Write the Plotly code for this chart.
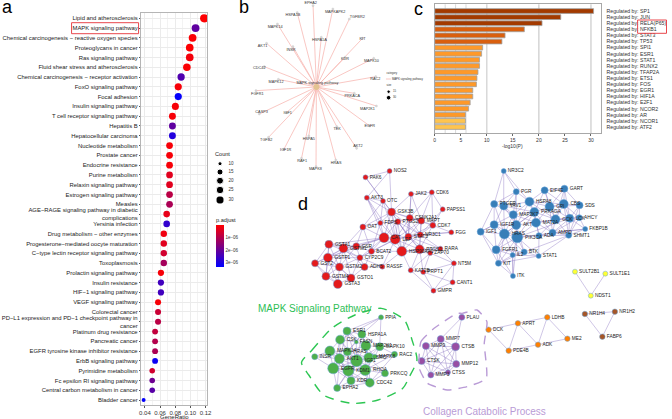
import plotly.graph_objects as go

W, H = 672, 419

# ---------- panel a ----------
pathways = ["Lipid and atherosclerosis", "MAPK signaling pathway",
    "Chemical carcinogenesis − reactive oxygen species", "Proteoglycans in cancer", "Ras signaling pathway",
    "Fluid shear stress and atherosclerosis", "Chemical carcinogenesis − receptor activation",
    "FoxO signaling pathway", "Focal adhesion", "Insulin signaling pathway", "T cell receptor signaling pathway",
    "Hepatitis B", "Hepatocellular carcinoma", "Nucleotide metabolism", "Prostate cancer", "Endocrine resistance",
    "Purine metabolism", "Relaxin signaling pathway", "Estrogen signaling pathway", "Measles",
    "AGE−RAGE signaling pathway in diabetic<br>complications", "Yersinia infection",
    "Drug metabolism − other enzymes", "Progesterone−mediated oocyte maturation",
    "C−type lectin receptor signaling pathway", "Toxoplasmosis", "Prolactin signaling pathway", "Insulin resistance",
    "HIF−1 signaling pathway", "VEGF signaling pathway", "Colorectal cancer",
    "PD−L1 expression and PD−1 checkpoint pathway in<br>cancer", "Platinum drug resistance", "Pancreatic cancer",
    "EGFR tyrosine kinase inhibitor resistance", "ErbB signaling pathway", "Pyrimidine metabolism",
    "Fc epsilon RI signaling pathway", "Central carbon metabolism in cancer", "Bladder cancer"]
counts = [31, 28, 27, 26, 26, 25, 23, 22, 22, 21, 20, 20, 20, 19, 19, 19, 19, 19, 19, 19,
          18, 18, 17, 17, 17, 17, 16, 16, 16, 15, 15, 15, 14, 14, 14, 14, 13, 13, 13, 10]
gene_ratio = [0.1183, 0.1069, 0.1030, 0.0992, 0.0992, 0.0954, 0.0878, 0.0840, 0.0840, 0.0802, 0.0763, 0.0763, 0.0763,
              0.0725, 0.0725, 0.0725, 0.0725, 0.0725, 0.0725, 0.0725, 0.0687, 0.0687, 0.0649, 0.0649, 0.0649, 0.0649,
              0.0611, 0.0611, 0.0611, 0.0573, 0.0573, 0.0573, 0.0534, 0.0534, 0.0534, 0.0534, 0.0496, 0.0496, 0.0496,
              0.0382]
p_adjust = [0.02e-6, 2.1e-6, 0.05e-6, 0.03e-6, 0.15e-6, 0.05e-6, 2.3e-6, 0.1e-6, 3.3e-6, 0.1e-6, 0.1e-6, 2.1e-6, 2.9e-6,
            0.1e-6, 0.1e-6, 0.1e-6, 0.4e-6, 0.4e-6, 0.9e-6, 1.1e-6, 0.3e-6, 2.7e-6, 0.2e-6, 0.4e-6, 0.6e-6, 1.2e-6,
            0.1e-6, 2.5e-6, 2.5e-6, 0.1e-6, 0.7e-6, 0.9e-6, 0.8e-6, 1.0e-6, 1.1e-6, 3.2e-6, 0.6e-6, 1.9e-6, 2.2e-6, 3.3e-6]
legend_counts = [10, 15, 20, 25, 30]

# ---------- panel c ----------
regulators = ["SP1", "JUN", "RELA(P65)", "NFKB1", "STAT3", "TP53", "SPI1", "ESR1", "STAT1", "RUNX2", "TFAP2A", "ETS1",
              "FOS", "EGR1", "HIF1A", "E2F1", "NCOR2", "AR", "NCOR1", "ATF2"]
log_p = [30.5, 24.2, 20.6, 17.2, 13.5, 12.9, 9.2, 9.0, 8.6, 8.6, 8.3, 8.1, 8.0, 7.3, 7.3, 6.8, 6.5, 5.9, 5.9, 5.9]
bar_colors = ["#A33A00"] * 3 + ["#D95F0E"] * 3 + ["#FE9929"] * 12 + ["#FEC44F"] * 2

# ---------- panel b (layout positions) ----------
b_genes = ["EPHA2", "MAPKAPK2", "TGFBR2", "HSPA1B", "MAPK14", "HSPA1A", "KIT", "AKT1", "INSR", "KDR", "MAPK10", "CDC42",
           "MAPK12", "RAC2", "FGFR1", "PRKACA", "MAP2K1", "CASP3", "IGF1", "EGFR", "TGFB2", "TEK", "HSPA5", "AKT2",
           "IGF1R", "RAF1", "HRAS", "MAPK8"]
b_x = [253, 313, 363, 205, 145, 278, 403, 112, 192, 350, 437, 105, 148, 443, 80, 378, 445, 90, 172, 425, 118, 325, 240,
       385, 165, 218, 322, 262]
b_y = [17, 27, 57, 38, 72, 112, 115, 130, 140, 172, 175, 200, 238, 230, 272, 280, 318, 342, 338, 378, 412, 380, 408,
       445, 447, 475, 480, 500]
b_lx = [246, 320, 387, 192, 138, 272, 403, 100, 186, 350, 430, 90, 141, 442, 84, 372, 418, 97, 176, 425, 111, 326, 240,
        389, 170, 220, 323, 260]
b_ly = [10, 36, 51, 45, 80, 120, 117, 139, 149, 178, 184, 204, 246, 237, 282, 289, 326, 335, 340, 379, 420, 387, 416,
        438, 450, 483, 490, 506]

# ---------- panel d (layout positions) ----------
red_names = ["NOS2", "PAK6", "AKT3", "OTC", "JAK2", "CDK6", "PAPSS1", "GSK3B", "CSNK2A1", "MAPT", "FDPS", "PTGS2", "OAT",
             "CDK7", "FGG", "CAT", "LEP", "STAT3", "NR3C1", "HSP90AA1", "PTGS1", "RARA", "ZAP70", "GSTA1", "GSTM1", "GSR",
             "BCAT2", "CYP2C9", "GSTP1", "GST2", "GSTM2", "ADH5", "RASSF", "NT5M", "KAT2B", "PRPT1", "GSTM4", "GSTO1",
             "GSTA3", "CANT1", "GMPR"]
red_x = [305, 232, 236, 285, 370, 433, 466, 311, 366, 401, 277, 330, 224, 436, 492, 288, 322, 362, 398, 342, 396, 459, 428,
         121, 165, 204, 250, 215, 118, 79, 153, 229, 283, 500, 369, 407, 112, 188, 148, 496, 438]
red_y = [63, 82, 143, 153, 132, 127, 178, 186, 204, 212, 219, 215, 231, 226, 247, 263, 268, 260, 254, 304, 298, 296, 309,
         283, 295, 289, 304, 323, 323, 340, 351, 351, 350, 340, 361, 366, 379, 384, 402, 397, 422]
red_s = [5, 5, 5, 5, 5, 5, 5, 8, 7, 7, 5, 6, 6, 6, 5, 10, 10, 7, 6, 10, 9, 5, 5, 8, 9, 7, 6, 6, 9, 7, 8, 7, 5, 5, 5, 5, 8, 8, 9, 5, 5]
red_edges = ["NOS2 PAK6 GSK3B AKT3", "PAK6 GSK3B OTC", "AKT3 OTC GSK3B FDPS CAT LEP", "OTC GSK3B OAT FDPS LEP",
             "JAK2 CDK6 CSNK2A1 STAT3 MAPT GSK3B", "CDK6 CDK7 MAPT CSNK2A1 PAPSS1", "PAPSS1 CDK7 NR3C1",
             "GSK3B CSNK2A1 MAPT FDPS PTGS2 CAT LEP STAT3 HSP90AA1 OAT NR3C1", "CSNK2A1 MAPT PTGS2 STAT3 LEP HSP90AA1 CDK7 NR3C1",
             "MAPT CDK7 STAT3 NR3C1 PTGS1 LEP", "FDPS PTGS2 CAT LEP OAT BCAT2", "PTGS2 CAT LEP STAT3 NR3C1 HSP90AA1 PTGS1",
             "OAT CAT BCAT2 GSR GSTM1", "CDK7 STAT3 FGG NR3C1 PTGS1", "FGG NR3C1 STAT3", "CAT LEP STAT3 HSP90AA1 BCAT2 GSR CYP2C9 GSTM1 GSTA1 GSTP1",
             "LEP STAT3 HSP90AA1 PTGS1 NR3C1 BCAT2 CYP2C9 RASSF", "STAT3 HSP90AA1 PTGS1 NR3C1 RARA ZAP70", "NR3C1 HSP90AA1 PTGS1 RARA",
             "HSP90AA1 PTGS1 BCAT2 KAT2B ZAP70 RASSF RARA", "PTGS1 RARA ZAP70 KAT2B PRPT1", "RARA ZAP70 NT5M", "ZAP70 PRPT1 NT5M KAT2B",
             "GSTA1 GSTM1 GSR GSTP1 GST2 GSTM2 CYP2C9 GSTM4", "GSTM1 GSR GSTP1 GSTM2 CYP2C9 ADH5 GSTO1 GST2 GSTM4", "GSR CYP2C9 GSTP1 BCAT2 GSTM2",
             "BCAT2 CYP2C9 ADH5", "CYP2C9 GSTP1 GSTM2 ADH5 GSTO1 RASSF", "GSTP1 GST2 GSTM2 GSTM4 GSTO1 GSTA3", "GST2 GSTM2 GSTM4 GSTA3",
             "GSTM2 ADH5 GSTM4 GSTO1 GSTA3", "ADH5 GSTO1 RASSF", "GSTM4 GSTO1 GSTA3", "GSTO1 GSTA3", "NT5M CANT1 PRPT1 GMPR",
             "KAT2B PRPT1 GMPR", "PRPT1 CANT1 GMPR", "CANT1 GMPR"]

blue_names = ["NR3C2", "PGR", "EIF4E", "GART", "PTGER", "VAV1", "HSPA8", "GPI", "CBS", "SDS", "MAP2K7", "PRKAGA", "GCK",
              "LCK", "AHCY", "IGF1R", "AKT", "MAT2A", "FKBP1B", "IGF1", "HRAS", "PIK3CA", "ADA", "AMPD", "SHMT1", "FGFR1",
              "BTK", "IL2", "STAT1", "KIT", "ITK"]
blue_x = [81, 119, 205, 265, 52, 81, 159, 220, 263, 311, 110, 174, 238, 281, 310, 52, 119, 179, 328, 11, 83, 122, 188, 229,
          278, 58, 143, 108, 187, 65, 109]
blue_y = [63, 125, 121, 116, 162, 168, 155, 170, 162, 166, 194, 186, 208, 205, 203, 224, 225, 218, 237, 245, 252, 262, 257,
          248, 256, 299, 306, 315, 318, 340, 378]
blue_s = [5, 6, 7, 7, 7, 8, 9, 9, 9, 7, 8, 9, 9, 8, 6, 8, 9, 9, 5, 7, 10, 11, 6, 7, 6, 8, 6, 5, 5, 6, 5]
blue_edges = ["NR3C2 PGR VAV1 PTGER HSPA8", "PGR VAV1 PTGER HSPA8 MAP2K7 AKT", "EIF4E GART HSPA8 GPI CBS PRKAGA GCK", "GART GPI CBS SDS LCK GCK",
              "PTGER VAV1 MAP2K7 IGF1R IGF1 HRAS", "VAV1 HSPA8 MAP2K7 IGF1R AKT HRAS PRKAGA", "HSPA8 GPI PRKAGA MAP2K7 AKT MAT2A CBS GCK",
              "GPI CBS PRKAGA GCK LCK MAT2A AMPD SDS", "CBS SDS LCK GCK AHCY SHMT1", "SDS LCK AHCY SHMT1", "MAP2K7 PRKAGA AKT IGF1R HRAS PIK3CA MAT2A",
              "PRKAGA GCK AKT MAT2A PIK3CA HRAS ADA AMPD", "GCK LCK MAT2A AMPD ADA SHMT1 AHCY", "LCK AHCY FKBP1B AMPD SHMT1 MAT2A PIK3CA",
              "AHCY SHMT1 FKBP1B AMPD", "IGF1R AKT IGF1 HRAS PIK3CA FGFR1", "AKT MAT2A HRAS PIK3CA FGFR1 BTK", "MAT2A PIK3CA ADA AMPD",
              "FKBP1B AMPD SHMT1 PIK3CA", "IGF1 HRAS FGFR1 KIT IGF1R", "HRAS PIK3CA FGFR1 BTK IL2 KIT", "PIK3CA ADA FGFR1 BTK IL2 STAT1 KIT ITK",
              "ADA AMPD SHMT1 STAT1", "AMPD SHMT1", "SHMT1 STAT1 BTK", "FGFR1 BTK IL2 KIT ITK", "BTK IL2 STAT1 KIT", "IL2 STAT1 KIT ITK",
              "KIT ITK STAT1", "ITK IL2"]

green_names = ["PPIA", "ESR1", "HSPA1A", "CSK", "FASN", "MAP2K1", "MAPK10", "INSR", "MAPK14", "AKT1", "HRAS", "IGF1", "SRC",
               "MAPK8", "RAC2", "EGFR", "KDM1", "RHOA", "PRKCQ", "KDR", "CDC42", "EPHA2"]
green_x = [429, 326, 371, 305, 354, 383, 425, 228, 274, 303, 327, 355, 392, 410, 470, 284, 330, 381, 441, 338, 395, 296]
green_y = [112, 153, 163, 179, 186, 197, 200, 230, 213, 236, 215, 242, 233, 230, 223, 265, 272, 270, 280, 302, 308, 324]
green_s = [5, 8, 8, 9, 4, 10, 8, 6, 10, 10, 8, 12, 10, 5, 6, 11, 11, 11, 7, 8, 9, 7]
green_edges = ["PPIA HSPA1A ESR1 MAPK10 CSK", "ESR1 HSPA1A CSK FASN MAP2K1 AKT1 HRAS IGF1", "HSPA1A FASN MAP2K1 MAPK10 HRAS IGF1 SRC",
               "CSK FASN MAPK14 AKT1 HRAS EGFR IGF1", "FASN MAP2K1 HRAS IGF1", "MAP2K1 MAPK10 MAPK8 SRC IGF1 HRAS RHOA", "MAPK10 MAPK8 SRC RAC2 IGF1",
               "INSR MAPK14 AKT1 EGFR", "MAPK14 AKT1 HRAS EGFR IGF1 KDM1 KDR", "AKT1 HRAS IGF1 EGFR KDM1 RHOA KDR EPHA2", "HRAS IGF1 SRC EGFR KDM1 RHOA",
               "IGF1 SRC MAPK8 EGFR KDM1 RHOA KDR CDC42 EPHA2 PRKCQ", "SRC MAPK8 RAC2 RHOA PRKCQ CDC42 KDM1", "MAPK8 RAC2 RHOA", "RAC2 RHOA CDC42",
               "EGFR KDM1 RHOA KDR EPHA2 CDC42", "KDM1 RHOA KDR CDC42 EPHA2", "RHOA PRKCQ KDR CDC42", "PRKCQ CDC42", "KDR CDC42 EPHA2", "CDC42 EPHA2"]

purple_names = ["PLAU", "MMP7", "MMP9", "CTSB", "CTSK", "MMP12", "CTSS", "MMP3"]
purple_x = [674, 610, 565, 655, 552, 657, 632, 580]
purple_y = [112, 177, 198, 200, 243, 252, 277, 285]
purple_s = [6, 7, 7, 8, 7, 7, 5, 6]
purple_edges = ["PLAU CTSB MMP7", "MMP7 MMP9 CTSB CTSK MMP12 CTSS MMP3", "MMP9 CTSB CTSK MMP12 CTSS MMP3", "CTSB CTSK MMP12 CTSS MMP3",
                "CTSK MMP12 CTSS MMP3", "MMP12 CTSS MMP3", "CTSS MMP3"]

orange_names = ["DCK", "APRT", "LDHB", "ADK", "ME2", "PDE4B"]
orange_x = [125, 214, 303, 275, 364, 186]
orange_y = [149, 130, 112, 194, 176, 212]
orange_edges = ["DCK APRT PDE4B", "APRT LDHB PDE4B ADK", "LDHB ADK ME2", "ADK ME2 PDE4B"]
brown_names = ["NR1H4", "NR1H2", "FABP6"]
brown_x = [417, 508, 470]
brown_y = [102, 95, 170]
brown_edges = ["NR1H4 NR1H2 FABP6", "NR1H2 FABP6"]
yellow_names = ["SULT2B1", "SULT1E1", "NDST1"]
yellow_x = [297, 389]
yellow_y = [365, 371]
ndst1_xy = [435, 47]

green_hull_x = [188, 220, 280, 350, 430, 500, 523, 538, 515, 495, 420, 340, 255, 210, 188]
green_hull_y = [248, 210, 145, 105, 85, 120, 180, 240, 290, 325, 360, 370, 345, 285, 248]
purple_hull_x = [545, 550, 590, 660, 675, 720, 750, 742, 748, 690, 630, 570, 545]
purple_hull_y = [265, 185, 145, 100, 100, 90, 125, 190, 295, 320, 330, 310, 265]


def px(v):
    return v / W


def py(v):
    return 1 - v / H


def crop(xs, ys, ox, oy):
    return [ox + x / 3 for x in xs], [oy + y / 3 for y in ys]


def dot_size(c):
    return 4 + 4.2 * ((c - 10) / 21) ** 0.5


fig = go.Figure()

# a: dots
fig.add_trace(go.Scatter(
    x=gene_ratio, y=list(range(len(pathways))), mode="markers", xaxis="x", yaxis="y",
    marker=dict(size=[dot_size(c) for c in counts], color=[-p for p in p_adjust], opacity=1,
                cmin=-3.35e-6, cmax=0, colorscale=[[0, "#0000FF"], [1, "#FF0000"]],
                line=dict(width=0), showscale=True,
                colorbar=dict(x=px(216), xanchor="left", y=py(246), yanchor="middle", len=42 / H, lenmode="fraction",
                              thickness=8, thicknessmode="pixels", outlinewidth=0, tickvals=[-1e-6, -2e-6, -3e-6],
                              ticktext=["1e−06", "2e−06", "3e−06"], ticks="", xpad=0, ypad=0,
                              tickfont=dict(size=4.5, color="#333", family="Liberation Sans"))),
    hoverinfo="skip"))

# c: bars
fig.add_trace(go.Bar(
    x=log_p, y=list(range(len(regulators))), orientation="h", xaxis="x2", yaxis="y2", width=0.78,
    marker=dict(color=bar_colors, line=dict(color="#A0A0A0", width=0.8)), hoverinfo="skip"))

# overlay traces live on xaxis3/yaxis3, spanning the whole picture
def overlay(**kw):
    fig.add_trace(go.Scatter(xaxis="x3", yaxis="y3", hoverinfo="skip", **kw))


# a: count legend
overlay(x=[220.3] * 5, y=[163.7, 172, 180.7, 190, 200], mode="markers",
        marker=dict(size=[dot_size(c) for c in legend_counts], color="black", opacity=1))
overlay(x=[229] * 5, y=[163.7, 172, 180.7, 190, 200], mode="text", text=[str(c) for c in legend_counts],
        textposition="middle right", textfont=dict(size=4.5, color="#333", family="Liberation Sans"))

# b: graph
bx, by = crop(b_x, b_y, 230, 0)
blx, bly = crop(b_lx, b_ly, 230, 0)
cx, cy = 317.7, 87
ex, ey = [], []
for x, y in zip(bx, by):
    ex += [cx, x, None]
    ey += [cy, y, None]
overlay(x=ex, y=ey, mode="lines", line=dict(color="#F8B9B4", width=0.8))
overlay(x=bx, y=by, mode="markers", marker=dict(size=2.2, color="#D8D8D8", line=dict(color="#BDBDBD", width=0.3)))
overlay(x=[cx], y=[cy], mode="markers", marker=dict(size=6, color="#E3C391"))
overlay(x=blx, y=bly, mode="text", text=b_genes, textposition="middle center",
        textfont=dict(size=3.8, color="#333", family="Liberation Sans"))
overlay(x=[cx + 1], y=[83.5], mode="text", text=["MAPK signaling pathway"], textposition="middle center",
        textfont=dict(size=3.8, color="#333", family="Liberation Sans"))
overlay(x=[388, 393], y=[79, 79], mode="lines", line=dict(color="#F8B9B4", width=0.8))
overlay(x=[390.7, 390.7], y=[91.7, 97.7], mode="markers", marker=dict(size=[3.4, 4.6], color="black", opacity=1))
overlay(x=[395, 395, 388.5, 388.5], y=[91.7, 97.7, 73, 85.7], mode="text",
        text=["15", "30", "category", "size"], textposition="middle right",
        textfont=dict(size=2.8, color="#333", family="Liberation Sans"))
overlay(x=[394], y=[79.5], mode="text", text=["MAPK signaling pathway"], textposition="middle right",
        textfont=dict(size=2.8, color="#333", family="Liberation Sans"))


# d: network
def edges_xy(lines, pos):
    xs, ys = [], []
    for line in lines:
        head, *tails = line.split()
        for t in tails:
            xs += [pos[head][0], pos[t][0], None]
            ys += [pos[head][1], pos[t][1], None]
    return xs, ys


def cluster(names, x, y, sizes, color, edge_lines):
    pos = dict(zip(names, zip(x, y)))
    xs, ys = edges_xy(edge_lines, pos)
    overlay(x=xs, y=ys, mode="lines", line=dict(color="rgba(128,104,190,0.55)", width=0.7))
    overlay(x=x, y=y, mode="markers+text", text=names, textposition="middle right",
            marker=dict(size=sizes, color=color, opacity=1, line=dict(color="#6FA8DC", width=0.5)),
            textfont=dict(size=4.8, color="#222", family="Liberation Sans"))


rx, ry = crop(red_x, red_y, 290, 150)
cluster(red_names, rx, ry, red_s, "#E41A1C", red_edges)
bbx, bby = crop(blue_x, blue_y, 480, 150)
cluster(blue_names, bbx, bby, blue_s, "#377EB8", blue_edges)
gx, gy = crop(green_x, green_y, 240, 280)
cluster(green_names, gx, gy, green_s, "#4DAF4A", green_edges)
ux, uy = crop(purple_x, purple_y, 240, 280)
cluster(purple_names, ux, uy, purple_s, "#984EA3", purple_edges)
ox, oy = crop(orange_x, orange_y, 450, 280)
cluster(orange_names, ox, oy, [5.5] * 6, "#FF7F00", orange_edges)
wx, wy = crop(brown_x, brown_y, 450, 280)
cluster(brown_names, wx, wy, [5.5] * 3, "#A65628", brown_edges)
yx, yy = crop(yellow_x, yellow_y, 480, 150)
nx, ny = crop(ndst1_xy[:1], ndst1_xy[1:], 450, 280)
yx, yy = yx + nx, yy + ny
cluster(yellow_names, yx, yy, [5] * 3, "#FFFF33", ["NDST1 SULT2B1 SULT1E1"])

# d: hulls
hx, hy = crop(green_hull_x, green_hull_y, 240, 280)
overlay(x=hx, y=hy, mode="lines", line=dict(color="#2DC653", width=1.4, dash="9px,7px", shape="spline", smoothing=0.7))
hx, hy = crop(purple_hull_x, purple_hull_y, 240, 280)
overlay(x=hx, y=hy, mode="lines", line=dict(color="#B99BD6", width=1.4, dash="9px,7px", shape="spline", smoothing=0.5))


def note(x, y, text, size, color="#222", anchor="left", family="Liberation Sans"):
    return dict(x=px(x), y=py(y), xref="paper", yref="paper", text=text, showarrow=False, xanchor=anchor,
                yanchor="middle", font=dict(size=size, color=color, family=family), borderpad=0, borderwidth=0)


annotations = [
    note(0, 7, "a", 18, "#000"), note(239, 7, "b", 18, "#000"), note(416, 9, "c", 18, "#000"), note(299, 204, "d", 18, "#000"),
    note(174, 416.5, "GeneRatio", 6, "#222", "center"),
    note(215, 154, "Count", 5.6), note(216, 220, "p.adjust", 5.6),
    note(516, 146, "-log10(P)", 5, "#333", "center"),
    note(259, 308, "MAPK Signaling Pathway", 10, "#2DBE55"),
    note(425.7, 411, "Collagen Catabolic Process", 10, "#B99BD6"),
]

red_rects = [(70.3, 22.7, 138, 33.7), (642.3, 20, 671.5, 33.3)]
shapes = [dict(type="rect", xref="paper", yref="paper", x0=px(a), x1=px(c), y0=py(b), y1=py(d),
               line=dict(color="#E8474C", width=1)) for a, b, c, d in red_rects]

fig.update_layout(
    width=W, height=H, margin=dict(l=0, r=0, t=0, b=0), paper_bgcolor="white", plot_bgcolor="rgba(0,0,0,0)",
    showlegend=False, annotations=annotations, shapes=shapes, bargap=0.2,
    xaxis=dict(domain=[px(140.8), px(207.3)], range=[0.0352, 0.1222], tickvals=[0.04, 0.06, 0.08, 0.10, 0.12],
               ticktext=["0.04", "0.06", "0.08", "0.10", "0.12"], showgrid=True, gridcolor="#EBEBEB", gridwidth=0.6,
               minor=dict(dtick=0.01, showgrid=True, gridcolor="#F3F3F3", gridwidth=0.4), showline=True, mirror=True,
               linecolor="#B5B5B5", linewidth=1, ticks="outside", ticklen=1.5, tickwidth=0.5, tickcolor="#555",
               tickfont=dict(size=6, color="#333", family="Liberation Sans"), anchor="y", zeroline=False),
    yaxis=dict(domain=[py(405), py(12.7)], range=[39.5, -0.57], tickvals=list(range(len(pathways))), ticktext=pathways,
               showgrid=True, gridcolor="#EBEBEB", gridwidth=0.6, showline=True, mirror=True, linecolor="#B5B5B5",
               linewidth=1, ticks="outside", ticklen=1.5, tickwidth=0.5, tickcolor="#555", anchor="x",
               tickfont=dict(size=5.9, color="#222", family="Liberation Sans"), zeroline=False),
    xaxis2=dict(domain=[px(437.3), px(605.7)], range=[0, 32], tickvals=[0, 5, 10, 15, 20, 25, 30],
                showgrid=False, showline=True, mirror=True, linecolor="#A8A8A8", linewidth=1.2, ticks="outside",
                ticklen=1.5, tickwidth=0.5, tickcolor="#666", anchor="y2", zeroline=False,
                tickfont=dict(size=5, color="#333", family="Liberation Sans")),
    yaxis2=dict(domain=[py(133.3), py(4.3)], range=[20.03, -1.1], side="right", tickvals=list(range(len(regulators))),
                ticktext=["Regulated by: " + r for r in regulators], showgrid=False, showline=True, mirror=True,
                linecolor="#A8A8A8", linewidth=1.2, ticks="outside", ticklen=3, tickcolor="rgba(0,0,0,0)", anchor="x2",
                zeroline=False, tickfont=dict(size=5.2, color="#333", family="Liberation Sans")),
    xaxis3=dict(domain=[0, 1], range=[0, W], visible=False, anchor="y3", fixedrange=True),
    yaxis3=dict(domain=[0, 1], range=[H, 0], visible=False, anchor="x3", fixedrange=True),
)
# c: vertical reference lines sit behind the bars
for v, col, wd in [(2, "#CFCFCF", 0.8), (4, "#CFCFCF", 0.8), (6, "#CFCFCF", 0.8), (10, "#CFCFCF", 1.2), (20, "#BFBFBF", 1.0), (30, "#BFBFBF", 1.0)]:
    fig.add_shape(type="line", xref="x2", yref="paper", x0=v, x1=v, y0=py(133.3), y1=py(4.3),
                  line=dict(color=col, width=wd), layer="below")

fig.write_html("out.html", config={"displayModeBar": False},
               post_script="document.body.style.margin='0';document.body.style.overflow='hidden';")
